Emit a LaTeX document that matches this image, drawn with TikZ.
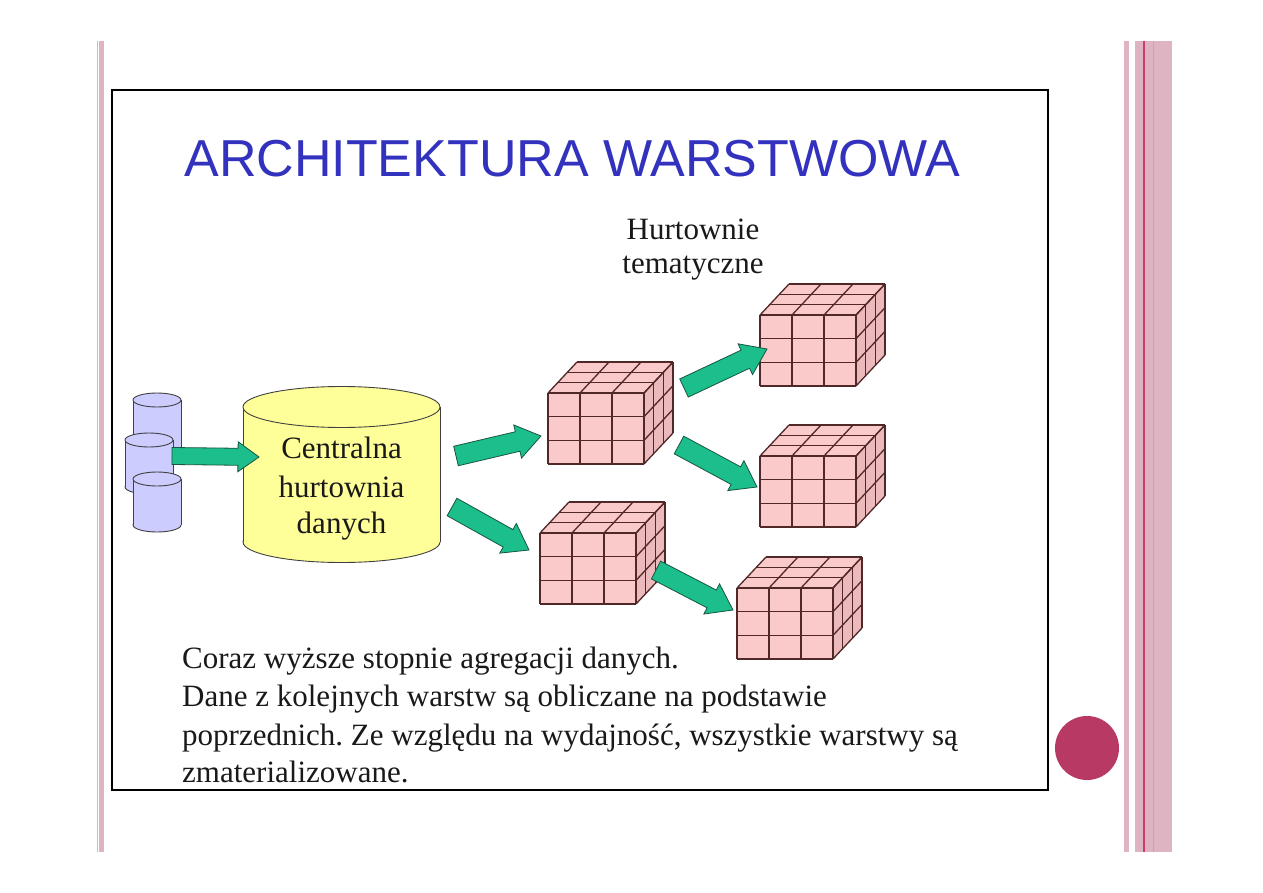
\documentclass[tikz,border=0pt]{standalone}
\usepackage{fontspec}
\setmainfont{Liberation Serif}
\newfontfamily\titlefont{Liberation Sans}
\usetikzlibrary{calc}
\frenchspacing
\definecolor{stripe}{RGB}{222,180,194}
\definecolor{stripedark}{RGB}{208,160,176}
\definecolor{magline}{RGB}{205,60,110}
\definecolor{dotc}{RGB}{184,58,100}
\definecolor{titleblue}{RGB}{50,50,190}
\definecolor{cubefill}{RGB}{250,202,202}
\definecolor{cubeside}{RGB}{236,186,188}
\definecolor{cubeline}{RGB}{80,40,40}
\definecolor{cylyellow}{RGB}{255,255,153}
\definecolor{cylblue}{RGB}{204,204,255}
\definecolor{arrowfill}{RGB}{28,190,140}
\definecolor{arrowline}{RGB}{25,85,65}
\tikzset{
  cubeedge/.style={draw=cubeline, line width=1.3pt},
  cyledge/.style={draw=black!75, line width=0.9pt},
  blockarr/.style={fill=arrowfill, draw=arrowline, line width=0.8pt, line join=miter},
  bodytext/.style={inner sep=0pt, font=\fontsize{31}{36}\selectfont, text=black!90},
  titletext/.style={inner sep=0pt, font=\titlefont\fontsize{52}{60}\selectfont, text=titleblue}
}
\newcommand{\mycube}[3]{%
 \begin{scope}[shift={(#2,#3)}]
  \coordinate (#1) at (48,35);
  \fill[cubeside] (96,0) -- (125,-31) -- (125,40) -- (96,71) -- cycle;
  \fill[cubefill] (0,0) -- (96,0) -- (125,-31) -- (29,-31) -- cycle;
  \fill[cubefill] (0,0) rectangle (96,71);
  \foreach \k in {0,1,2,3} {
    \draw[cubeedge] ({\k*29/3},{-\k*31/3}) -- ({96+\k*29/3},{-\k*31/3});
    \draw[cubeedge] ({96+\k*29/3},{-\k*31/3}) -- ({96+\k*29/3},{71-\k*31/3});
    \draw[cubeedge] ({\k*32},0) -- ({\k*32+29},-31);
    \draw[cubeedge] (96,{\k*71/3}) -- (125,{\k*71/3-31});
    \draw[cubeedge] ({\k*32},0) -- ({\k*32},71);
    \draw[cubeedge] (0,{\k*71/3}) -- (96,{\k*71/3});
  }
 \end{scope}}
% name, cx, topy, boty, rx, ry, fill
\newcommand{\mycyl}[7]{%
 \draw[cyledge, fill=#7] (#2,#4) ellipse [x radius=#5, y radius=#6];
 \fill[#7] ({#2-#5},#3) rectangle ({#2+#5},#4);
 \draw[cyledge] ({#2-#5},#3) -- ({#2-#5},#4);
 \draw[cyledge] ({#2+#5},#3) -- ({#2+#5},#4);
 \draw[cyledge, fill=#7] (#2,#3) ellipse [x radius=#5, y radius=#6];
 \coordinate (#1) at (#2,{(#3+#4)/2});}
% start, tip, shaft half width, head half width, head length
\newcommand{\blockarrow}[5]{%
 \coordinate (hb) at ($(#2)!#5pt!(#1)$);
 \draw[blockarr] ($(#1)!#3pt!90:(#2)$) -- ($(hb)!#3pt!90:(#2)$) -- ($(hb)!#4pt!90:(#2)$) -- (#2) -- ($(hb)!#4pt!-90:(#2)$) -- ($(hb)!#3pt!-90:(#2)$) -- ($(#1)!#3pt!-90:(#2)$) -- cycle;}
\begin{document}
\begin{tikzpicture}[x=1pt,y=-1pt]
\useasboundingbox (0,0) rectangle (1263,893);
\fill[white] (0,0) rectangle (1263,893);
% decorative stripes
\fill[stripe] (97,41) rectangle (104,852);
\draw[white, line width=0.8pt] (98.5,41) -- (98.5,852);
\fill[stripe] (1124,41) rectangle (1129,852);
\fill[stripe] (1135,41) rectangle (1172,852);
\draw[stripedark, line width=1pt] (1153,41) -- (1153,852);
\draw[magline, line width=1.5pt] (1144,41) -- (1144,852);
\fill[dotc] (1087,748) circle [radius=32];
% slide frame
\draw[black, line width=2pt] (112,90) rectangle (1048,790);
% title
\node[titletext, anchor=base] (title) at (572.5,177) {ARCHITEKTURA WARSTWOWA};
\node[bodytext, anchor=base] (hur1) at (693,240) {Hurtownie};
\node[bodytext, anchor=base] (hur2) at (693,274) {tematyczne};
% sources
\mycyl{src1}{157}{400}{448}{24}{7}{cylblue}
\mycyl{src2}{149}{440}{487}{24}{7}{cylblue}
\mycyl{src3}{157}{479}{525}{24}{7}{cylblue}
% central warehouse
\mycyl{cen}{341.5}{407}{542}{98.5}{20.5}{cylyellow}
\node[bodytext, anchor=base] (cent1) at (341.5,458) {Centralna};
\node[bodytext, anchor=base] (cent2) at (341.5,497) {hurtownia};
\node[bodytext, anchor=base] (cent3) at (341.5,533) {danych};
% cubes
\mycube{c1}{548}{393}
\mycube{c2}{540}{533}
\mycube{c3}{760}{315}
\mycube{c4}{760}{456}
\mycube{c5}{737}{588}
% arrow end points
\coordinate (src2-out) at (172,456);
\coordinate (cen-in) at (259,457);
\coordinate (cen-out1) at (456,456);
\coordinate (c1-in) at (541,436);
\coordinate (cen-out2) at (452,507);
\coordinate (c2-in) at (529,550);
\coordinate (c2-out) at (656,570);
\coordinate (c5-in) at (733,610);
\coordinate (c1-out1) at (684,388);
\coordinate (c3-in) at (767,349);
\coordinate (c1-out2) at (679,445);
\coordinate (c4-in) at (757,487);
\blockarrow{src2-out}{cen-in}{8.5}{15}{21}
\blockarrow{cen-out1}{c1-in}{10}{17}{24}
\blockarrow{cen-out2}{c2-in}{10}{17}{24}
\blockarrow{c2-out}{c5-in}{10}{17}{24}
\blockarrow{c1-out1}{c3-in}{10}{17}{24}
\blockarrow{c1-out2}{c4-in}{10}{17}{24}
% bottom text
\node[bodytext, anchor=base west] (t1) at (182,668) {Coraz wyższe stopnie agregacji danych.};
\node[bodytext, anchor=base west] (t2) at (182,706) {Dane z kolejnych warstw są obliczane na podstawie};
\node[bodytext, anchor=base west] (t3) at (182,745) {poprzednich. Ze względu na wydajność, wszystkie warstwy są};
\node[bodytext, anchor=base west] (t4) at (182,782) {zmaterializowane.};
\end{tikzpicture}
\end{document}
